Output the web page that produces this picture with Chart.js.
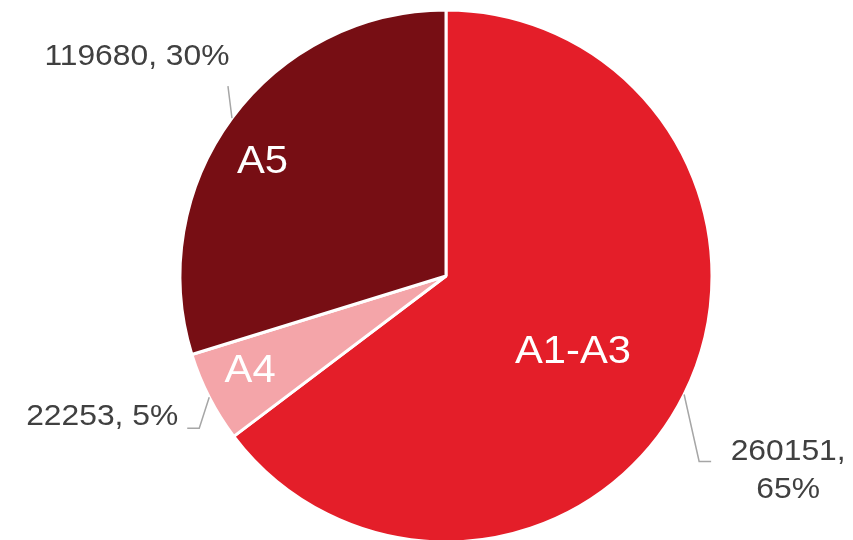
<!DOCTYPE html>
<html>
<head>
<meta charset="utf-8">
<script src="https://cdn.jsdelivr.net/npm/chart.js@4.4.1/dist/chart.umd.min.js"></script>
<style>
  html, body { margin: 0; padding: 0; background: #fff; overflow: hidden; }
  #wrap { width: 853px; height: 540px; position: relative; }
</style>
</head>
<body>
<div id="wrap"><canvas id="pie" width="853" height="540"></canvas></div>
<script>
// Data
const categories = ['A1-A3', 'A4', 'A5'];
const values = [260151, 22253, 119680];
const pctLabels = ['65%', '5%', '30%'];
const colors = ['#E41E29', '#F4A5A9', '#770E14'];

const FONT = '"Liberation Sans", Arial, sans-serif';

// Leader line + outside label layout per slice (offsets from the slice's outer edge at mid-angle)
const outsideLayout = [
    { elbow: [15, 67], end: [12, 0], text: [77, -10], align: 'center', wrap: true },
    { elbow: [-10, 31], end: [-12, 0], text: [-9, -12], align: 'right', wrap: false },
    { elbow: [-4, -32], end: [0, 0], text: [-91, -29], align: 'center', wrap: false }
];
// Inside label placement: radius fraction and angle nudge (degrees)
const insideRadius = [0.558, 0.82, 0.812];
const insideNudge = [4.7, 1, -4.6];

// text drawn slightly stretched horizontally
function fillWide(ctx, text, x, y, sx) {
    ctx.save();
    ctx.translate(x, y);
    ctx.scale(sx, 1);
    ctx.fillText(text, 0, 0);
    ctx.restore();
}

const pieLabels = {
    id: 'pieLabels',
    afterDatasetsDraw(chart) {
        const ctx = chart.ctx;
        const arcs = chart.getDatasetMeta(0).data;
        arcs.forEach((arc, i) => {
            const { x, y, startAngle, endAngle, outerRadius } = arc.getProps(['x', 'y', 'startAngle', 'endAngle', 'outerRadius'], true);
            const mid = (startAngle + endAngle) / 2;

            // name inside the slice
            const ri = outerRadius * insideRadius[i];
            const ai = mid + insideNudge[i] * Math.PI / 180;
            ctx.save();
            ctx.fillStyle = '#ffffff';
            ctx.font = '38px ' + FONT;
            ctx.textAlign = 'center';
            ctx.textBaseline = 'middle';
            fillWide(ctx, categories[i], x + Math.cos(ai) * ri, y + Math.sin(ai) * ri, 1.1);
            ctx.restore();

            // leader line from the edge
            const L = outsideLayout[i];
            const ex = x + Math.cos(mid) * outerRadius;
            const ey = y + Math.sin(mid) * outerRadius;
            const bx = ex + L.elbow[0], by = ey + L.elbow[1];
            const tx = bx + L.end[0], ty = by + L.end[1];
            ctx.save();
            ctx.strokeStyle = '#A6A6A6';
            ctx.lineWidth = 1.5;
            ctx.beginPath();
            ctx.moveTo(ex, ey);
            ctx.lineTo(bx, by);
            ctx.lineTo(tx, ty);
            ctx.stroke();

            // value, percent
            ctx.fillStyle = '#404040';
            ctx.font = '30px ' + FONT;
            ctx.textAlign = L.align;
            ctx.textBaseline = 'middle';
            const lx = tx + L.text[0], ly = ty + L.text[1];
            if (L.wrap) {
                fillWide(ctx, values[i] + ',', lx, ly, 1.06);
                fillWide(ctx, pctLabels[i], lx, ly + 38, 1.06);
            } else {
                fillWide(ctx, values[i] + ', ' + pctLabels[i], lx, ly, 1.06);
            }
            ctx.restore();
        });
    }
};

new Chart(document.getElementById('pie'), {
    type: 'pie',
    data: {
        labels: categories,
        datasets: [{
            data: values,
            backgroundColor: colors,
            borderColor: '#ffffff',
            borderWidth: 3,
            radius: 266,
            clip: false
        }]
    },
    options: {
        responsive: false,
        animation: false,
        layout: { padding: { left: 39, right: 0, top: 12, bottom: 0 } },
        plugins: {
            legend: { display: false },
            tooltip: { enabled: false }
        }
    },
    plugins: [pieLabels]
});
</script>
</body>
</html>
